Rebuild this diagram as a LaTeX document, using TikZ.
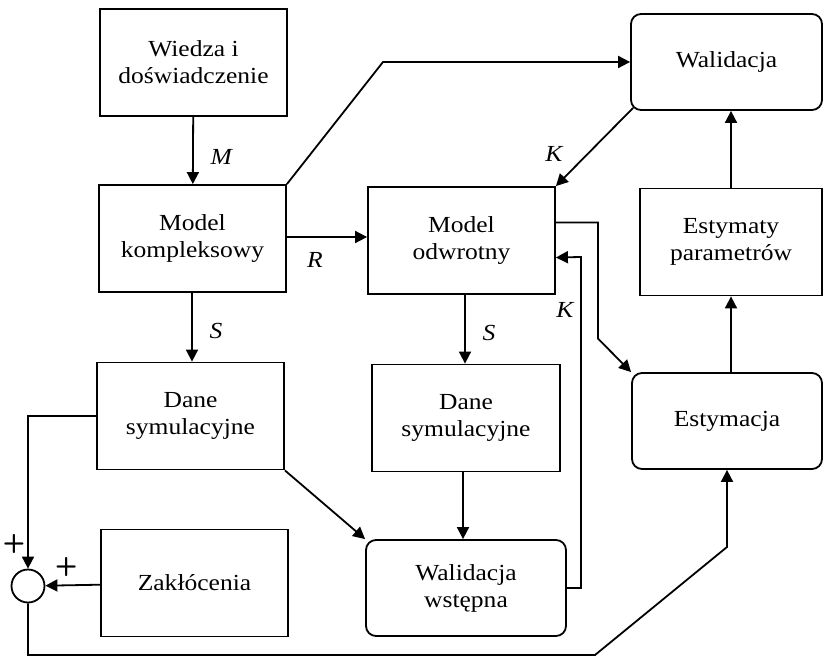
\documentclass[tikz,border=0pt]{standalone}
\usepackage{fontspec}
\setmainfont[FakeStretch=1.11]{Liberation Serif}
\usetikzlibrary{arrows.meta,positioning,calc}

\tikzset{
  box/.style={draw,line width=0.9pt,minimum width=93.5pt,minimum height=53.5pt,
    inner sep=0pt,align=center,font=\fontsize{11.5}{13.5}\selectfont},
  rbox/.style={box,rounded corners=5pt,minimum height=48pt},
  arr/.style={line width=0.9pt,-{Triangle[length=6pt,width=6pt]}},
  lab/.style={font=\fontsize{11.5}{13.5}\selectfont\itshape},
  sgn/.style={font=\fontsize{13}{13}\selectfont\sffamily\bfseries,inner sep=1pt}
}

\begin{document}
\begin{tikzpicture}[x=0.5pt,y=-0.5pt]
    \useasboundingbox (0,0) rectangle (823,657);
    % left column
    \node[box] (wiedza) at (193.5,62.5) {Wiedza i\\doświadczenie};
    \node[box] (kompl) at (192.5,238.5) {Model\\kompleksowy};
    \node[box] (daneL) at (190.5,416) {Dane\\symulacyjne};
    \node[box] (zakl) at (194.5,583) {Zakłócenia};
    \node[draw,line width=0.9pt,circle,minimum size=16.5pt,inner sep=0pt] (sum) at (28,586) {};
    % middle column
    \node[box] (odwr) at (461.5,240.5) {Model\\odwrotny};
    \node[box,minimum width=94pt] (daneM) at (466,418) {Dane\\symulacyjne};
    \node[rbox,minimum width=100pt] (walW) at (466,588) {Walidacja\\wstępna};
    % right column
    \node[rbox,minimum width=95.5pt] (walid) at (726.5,62) {Walidacja};
    \node[box,minimum width=91pt] (estPar) at (731,242) {Estymaty\\parametrów};
    \node[rbox,minimum width=95pt] (estym) at (727,421) {Estymacja};

    \draw[arr] (wiedza) -- node[lab,right=5pt,pos=0.6]{M} (kompl);
    \draw[arr] (kompl.north east) -- (383,62) -- (walid.west);
    \draw[arr] (kompl.east |- 0,237) -- node[lab,below=4pt,pos=0.35]{R} (odwr.west |- 0,237);
    \draw[arr] ($(walid.south west)+(3,-3)$) -- node[lab,above left=1pt,pos=0.8]{K} (odwr.north east);
    \draw[arr] (kompl.south -| 192,0) -- node[lab,right=5pt,pos=0.55]{S} (daneL.north -| 192,0);
    \draw[arr] (odwr.south -| 465,0) -- node[lab,right=5pt,pos=0.55]{S} (daneM.north -| 465,0);
    \draw[arr] ($(odwr.east)+(0,-18)$) -- ++(42,0) -- ++(0,116) -- (estym.north west);
    \draw[arr] (walW.east) -- ++(14,0) -- ++(0,-331) node[lab,left,pos=0.84]{K}
      -- ($(odwr.east)+(0,17)$);
    \draw[arr] (daneL.south east) -- (walW.north west);
    \draw[arr] (daneM.south -| 463,0) -- (walW.north -| 463,0);

    % summing junction
    \draw[arr] (daneL.west) -| node[sgn,left=0pt,pos=0.92]{+} (sum.north);
    \draw[arr] (zakl) -- node[sgn,above=3pt,pos=0.62]{+} (sum);
    \draw[arr] (sum.south) |- (595,655) -- (727,547) -- (estym.south);

    \draw[arr] (estym.north -| estPar) -- (estPar.south);
    \draw[arr] (estPar.north) -- (estPar.north |- walid.south);
\end{tikzpicture}
\end{document}
